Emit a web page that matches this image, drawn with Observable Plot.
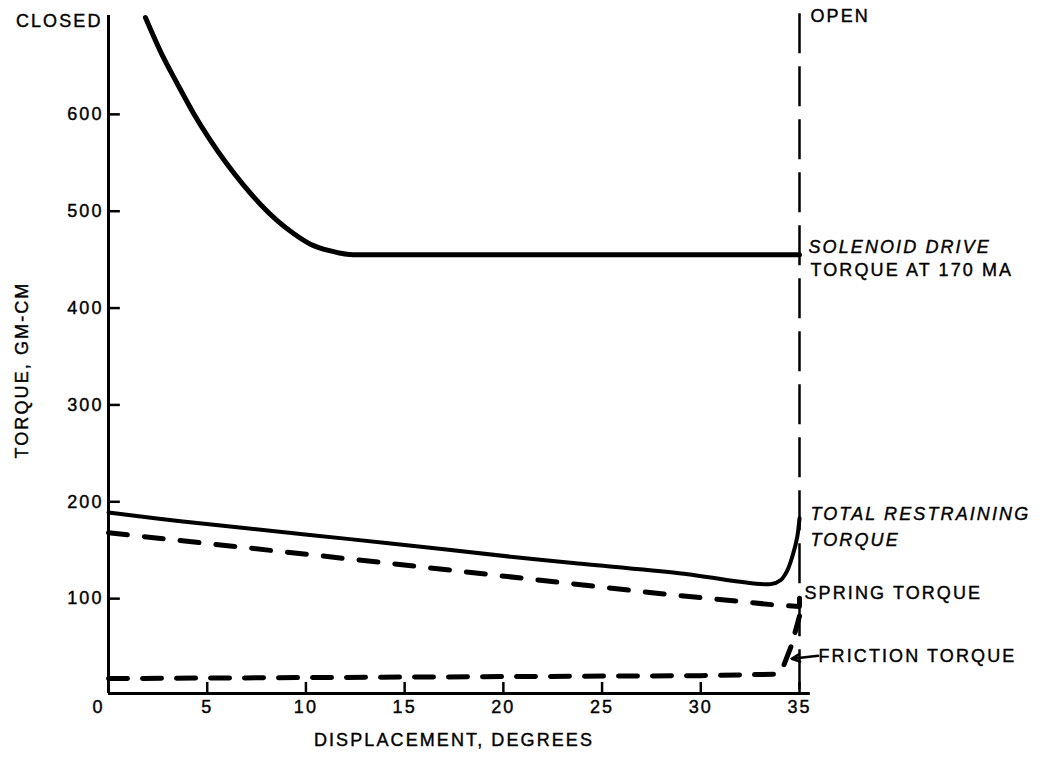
<!DOCTYPE html>
<html><head><meta charset="utf-8">
<script src="https://cdn.jsdelivr.net/npm/d3@7"></script>
<script src="https://cdn.jsdelivr.net/npm/@observablehq/plot@0.6"></script>
<style>
body{margin:0;background:#fff}
#chart svg text{letter-spacing:2.1px}
</style>
</head><body><div id="chart"></div>
<script>
// Tick values
const xTicks = [5, 10, 15, 20, 25, 30, 35];
const yTicks = [100, 200, 300, 400, 500, 600];

// Solenoid drive torque at 170 MA
const solenoidX = [1.87, 2.63, 3.5, 4.31, 5.17, 6.03, 6.84, 7.7, 8.56, 9.37, 10.23, 11.25, 12.41, 35];
const solenoidY = [700, 665, 631, 601, 573, 548, 527, 507, 490, 477, 466, 459, 455, 455];

// Total restraining torque
const totalX = [0, 3.65, 10.08, 14.3, 20.5, 23.4, 29.0, 33.54, 34.04, 34.38, 34.63, 34.88, 35];
const totalY = [189, 180, 166, 157, 143, 137, 126, 115, 119, 129, 143, 163, 183];

// Spring torque
const springX = [0, 14, 28, 34, 35, 35];
const springY = [168, 137, 105, 93, 92, 114];

// Friction torque
const frictionX = [0, 15, 30, 33.8, 34.2, 34.6, 35];
const frictionY = [17.5, 19, 20.5, 22, 31, 52, 82];

// Open position (vertical dashed line)
const openX = [35];

const toPts = (xs, ys) => xs.map((x, i) => ({x, y: ys[i]}));
const solenoid = toPts(solenoidX, solenoidY);
const total = toPts(totalX, totalY);
const spring = toPts(springX, springY);
const friction = toPts(frictionX, frictionY);

// Annotation texts
const labelTexts = ["OPEN", "SOLENOID DRIVE", "TORQUE AT 170 MA", "TOTAL RESTRAINING", "TORQUE", "SPRING TORQUE", "FRICTION TORQUE"];
const labelValues = [701, 463, 439, 187, 160, 106, 41];
const arrowData = [{x1: 35.95, y1: 41, x2: 34.6, y2: 38}];

const font = {fontSize: 18, fill: "black", stroke: "black", strokeWidth: 0.4};

function rightLabel(i, dx, italic) {
  return Plot.text([labelTexts[i]], {x: 35, y: labelValues[i], text: d => d, dx, textAnchor: "start",
    fontStyle: italic ? "italic" : "normal", ...font});
}

const chart = Plot.plot({
  width: 1047, height: 757,
  marginLeft: 108, marginRight: 248, marginTop: 17, marginBottom: 62,
  x: {domain: [0, 35], axis: null},
  y: {domain: [0, 700], axis: null},
  style: {fontFamily: "'Liberation Sans', Arial, sans-serif", background: "#fff", color: "#000"},
  marks: [
    // axes
    Plot.ruleX([0], {y1: 2, y2: 702, stroke: "black", strokeWidth: 3}),
    Plot.ruleY([2], {x1: 0, x2: 35.55, stroke: "black", strokeWidth: 3}),
    Plot.ruleY(yTicks, {y: d => d, x1: 0, x2: 0.6, stroke: "black", strokeWidth: 2.5}),
    Plot.ruleX(xTicks, {x: d => d, y1: 2, y2: 13.5, stroke: "black", strokeWidth: 2.5}),
    Plot.text(yTicks, {x: 0, y: d => d, text: d => String(d), textAnchor: "end", dx: -5, ...font}),
    Plot.text(xTicks, {x: d => d, y: 0, text: d => String(d), dy: 12, ...font}),
    Plot.text(["0"], {x: 0, y: 0, text: d => d, dx: -10, dy: 12, ...font}),
    Plot.text(["DISPLACEMENT, DEGREES"], {x: 17.5, y: 0, text: d => d, dy: 45, ...font}),
    Plot.text(["TORQUE, GM-CM"], {x: 0, y: 336, text: d => d, dx: -86, rotate: -90, ...font}),
    Plot.text(["CLOSED"], {x: 0, y: 696, text: d => d, dx: -6, textAnchor: "end", ...font}),
    // open line
    Plot.ruleX(openX, {x: d => d, y1: 704, y2: 0, stroke: "black", strokeWidth: 2.5, strokeDasharray: "40,13"}),
    // series
    Plot.line(solenoid, {x: "x", y: "y", curve: "monotone-x", stroke: "black", strokeWidth: 5}),
    Plot.line(total, {x: "x", y: "y", curve: "catmull-rom", stroke: "black", strokeWidth: 4}),
    Plot.line(spring, {x: "x", y: "y", stroke: "black", strokeWidth: 5, strokeDasharray: "19,17", strokeLinecap: "round"}),
    Plot.line(friction, {x: "x", y: "y", stroke: "black", strokeWidth: 5, strokeDasharray: "19,15", strokeLinecap: "round"}),
    // labels
    rightLabel(0, 11, false),
    rightLabel(1, 9, true),
    rightLabel(2, 11, false),
    rightLabel(3, 11, true),
    rightLabel(4, 11, true),
    rightLabel(5, 5, false),
    rightLabel(6, 19, false),
    Plot.arrow(arrowData, {x1: "x1", y1: "y1", x2: "x2", y2: "y2", stroke: "black", strokeWidth: 2.5, headLength: 10, headAngle: 50})
  ]
});
document.getElementById("chart").appendChild(chart);
</script>
</body></html>
